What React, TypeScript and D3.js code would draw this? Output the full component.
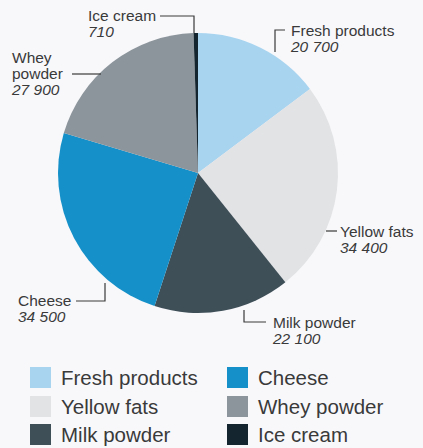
import React from "react";
import * as d3 from "d3";

const categories = ["Fresh products", "Yellow fats", "Milk powder", "Cheese", "Whey powder", "Ice cream"];
const values = [20700, 34400, 22100, 34500, 27900, 710];
const valueLabels = ["20 700", "34 400", "22 100", "34 500", "27 900", "710"];
const colors = ["#a8d4f0", "#e2e3e5", "#3f4f58", "#1590c8", "#8c959b", "#14252f"];

const W = 423, H = 448;
const cx = 198, cy = 173, R = 140;
const FONT = "'Liberation Sans', Arial, Helvetica, sans-serif";
const TXT = "#3a3a3a";

export default function App() {
  const pie = d3.pie<number>().sort(null).startAngle(0).endAngle(2 * Math.PI);
  const arcs = pie(values);
  const arc = d3.arc<d3.PieArcDatum<number>>().innerRadius(0).outerRadius(R);

  const labels = [
    { lines: ["Fresh products"], x: 291, y: 36, leader: "M285,30 H275 V52" },
    { lines: ["Yellow fats"], x: 340, y: 237, leader: "M326,231 H337" },
    { lines: ["Milk powder"], x: 273, y: 328, leader: "M244,310 V322 H266" },
    { lines: ["Cheese"], x: 18, y: 306, leader: "M76,301 H105 V283" },
    { lines: ["Whey", "powder"], x: 12, y: 63, leader: "M72,74 H101" },
    { lines: ["Ice cream"], x: 88, y: 21, leader: "M160,16 H194 V33" },
  ];

  const legendCols = [30, 227];
  const legendRows = [367, 396, 424];

  return (
    <svg width={W} height={H} style={{ position: "absolute", left: 0, top: 0, background: "#f8f8fb" }} fontFamily={FONT}>
      <rect width={W} height={H} fill="#f8f8fb" />
      <g transform={`translate(${cx},${cy})`}>
        {arcs.map((a, i) => (
          <path key={i} d={arc(a) || ""} fill={colors[i]} />
        ))}
      </g>
      {labels.map((l, i) => (
        <g key={i}>
          <path d={l.leader} fill="none" stroke={TXT} strokeWidth={1.2} />
          <text x={l.x} y={l.y} fontSize={15.5} fill={TXT}>
            {l.lines.map((t, j) => (
              <tspan key={j} x={l.x} dy={j === 0 ? 0 : 16}>{t}</tspan>
            ))}
            <tspan x={l.x} dy={16} fontStyle="italic">{valueLabels[i]}</tspan>
          </text>
        </g>
      ))}
      {categories.map((c, i) => {
        const col = i < 3 ? 0 : 1;
        const row = i % 3;
        const x = legendCols[col];
        const y = legendRows[row];
        return (
          <g key={c}>
            <rect x={x} y={y} width={21} height={21} fill={colors[i]} />
            <text x={x + 31} y={y + 18} fontSize={20.5} fill={TXT}>{c}</text>
          </g>
        );
      })}
    </svg>
  );
}
